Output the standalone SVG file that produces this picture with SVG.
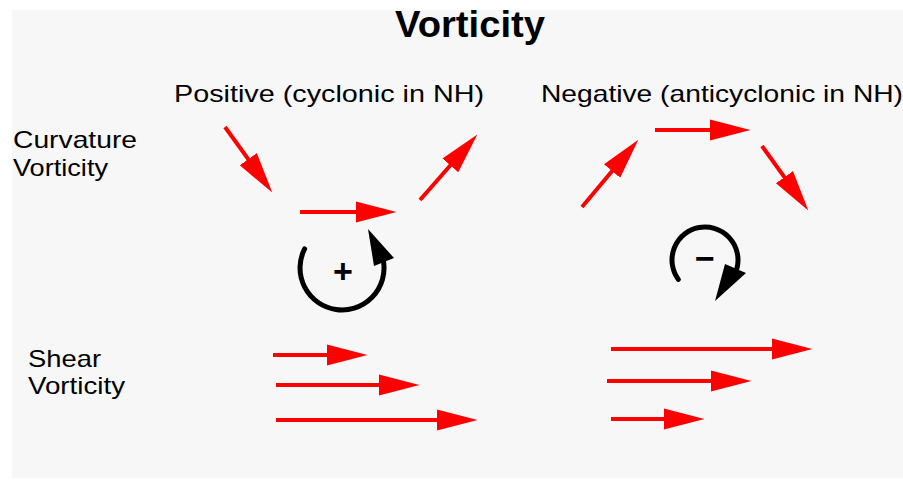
<svg xmlns="http://www.w3.org/2000/svg" width="903" height="480" viewBox="0 0 903 480">
  <style>
    .lbl { font-family: "Liberation Sans", Arial, sans-serif; font-size: 24px; fill: #000; }
    .title { font-family: "Liberation Sans", Arial, sans-serif; font-size: 36px; font-weight: bold; fill: #000; }
    .sign { font-family: "Liberation Sans", Arial, sans-serif; font-size: 34px; font-weight: bold; fill: #000; }
    .flow { stroke: #ff0000; stroke-width: 4; fill: none; marker-end: url(#redHead); }
    .rot { stroke: #000; stroke-width: 5; fill: none; stroke-linecap: round; }
    .rothead { fill: #000; }
  </style>
  <defs>
    <marker id="redHead" markerUnits="userSpaceOnUse" markerWidth="42" markerHeight="24" viewBox="0 -11 40 22" refX="29" refY="0" orient="auto">
      <path d="M0,-10 L39,0 L0,10 Z" fill="#ff0000"/>
    </marker>
  </defs>

  <rect x="0" y="0" width="903" height="480" fill="#ffffff"/>
  <rect x="12" y="10" width="891" height="468" fill="#f7f7f7"/>

  <g id="title">
    <text class="title" x="395" y="37" textLength="150" lengthAdjust="spacingAndGlyphs">Vorticity</text>
  </g>
  <g id="label-positive">
    <text class="lbl" x="174" y="102" font-size="25" textLength="310" lengthAdjust="spacingAndGlyphs">Positive (cyclonic in NH)</text>
  </g>
  <g id="label-negative">
    <text class="lbl" x="541" y="102" font-size="25" textLength="362" lengthAdjust="spacingAndGlyphs">Negative (anticyclonic in NH)</text>
  </g>
  <g id="label-curvature">
    <text class="lbl" x="13" y="148" textLength="124" lengthAdjust="spacingAndGlyphs">Curvature</text>
    <text class="lbl" x="13" y="176" textLength="95" lengthAdjust="spacingAndGlyphs">Vorticity</text>
  </g>
  <g id="label-shear">
    <text class="lbl" x="28" y="367" textLength="73" lengthAdjust="spacingAndGlyphs">Shear</text>
    <text class="lbl" x="28" y="394" textLength="97" lengthAdjust="spacingAndGlyphs">Vorticity</text>
  </g>

  <g id="rotation-positive">
    <path class="rot" d="M304.6,248.9 A42,42 0 1 0 383.4,260.7"/>
    <polygon class="rothead" points="368,229 394,258 374,266"/>
    <text class="sign" x="343" y="283" text-anchor="middle">+</text>
  </g>
  <g id="rotation-negative">
    <path class="rot" d="M678.3,279.4 A33,33 0 1 1 736.9,268.5"/>
    <polygon class="rothead" points="715,301 725,264 746,273"/>
    <text class="sign" x="705" y="270" text-anchor="middle">−</text>
  </g>

  <g id="connectors">
    <!-- curvature, positive -->
    <line class="flow" x1="225" y1="127" x2="266.1" y2="183.9"/>
    <line class="flow" x1="300" y1="212" x2="386" y2="212"/>
    <line class="flow" x1="420" y1="200" x2="470.4" y2="142.5"/>
    <!-- curvature, negative -->
    <line class="flow" x1="582" y1="207" x2="631.6" y2="147.7"/>
    <line class="flow" x1="655" y1="130" x2="740" y2="130"/>
    <line class="flow" x1="762" y1="146" x2="802.2" y2="201.9"/>
    <!-- shear, positive -->
    <line class="flow" x1="273" y1="355" x2="357" y2="355"/>
    <line class="flow" x1="276" y1="385" x2="409" y2="385"/>
    <line class="flow" x1="276" y1="420" x2="467" y2="420"/>
    <!-- shear, negative -->
    <line class="flow" x1="611" y1="349" x2="802" y2="349"/>
    <line class="flow" x1="607" y1="381" x2="741" y2="381"/>
    <line class="flow" x1="611" y1="419" x2="694" y2="419"/>
  </g>
</svg>
